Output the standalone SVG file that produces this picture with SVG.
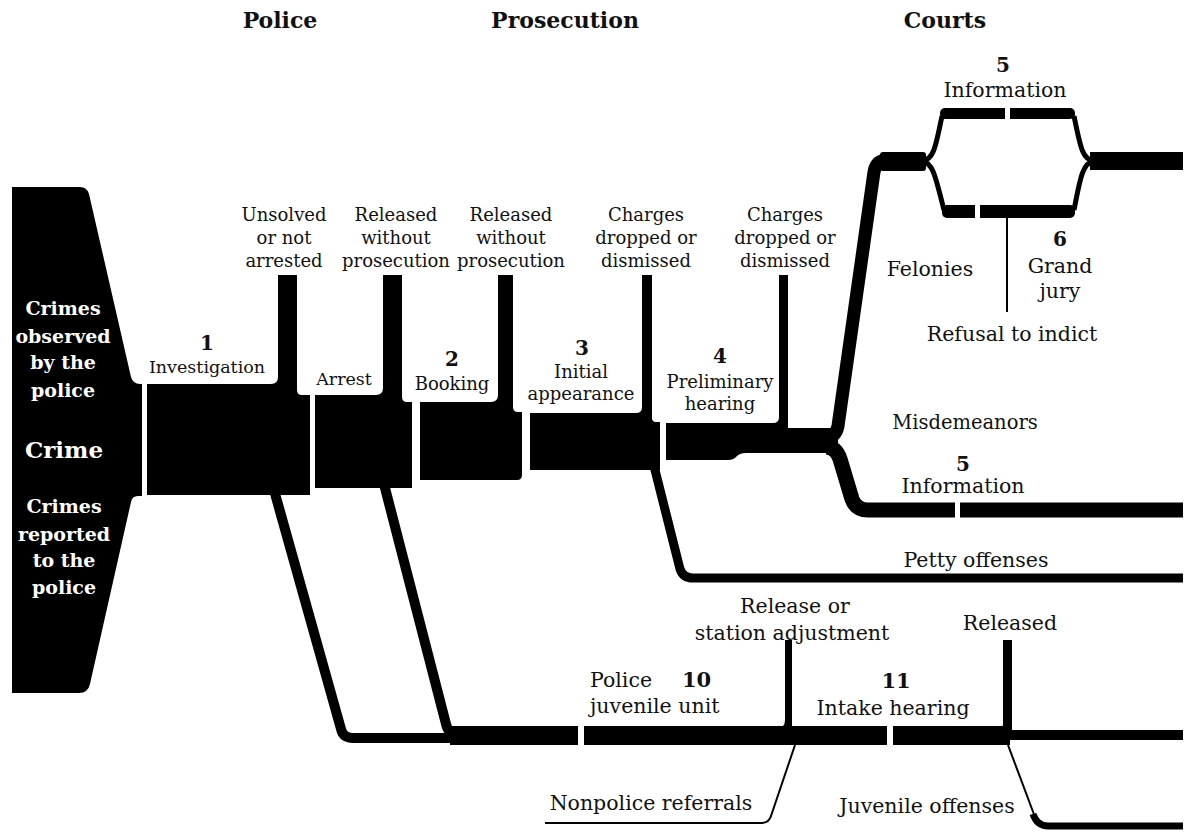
<svg xmlns="http://www.w3.org/2000/svg" width="1190" height="832" viewBox="0 0 1190 832">
<style>
.blk{fill:#000}
.str{fill:none;stroke:#000;stroke-linejoin:round}
.thin{fill:none;stroke:#000;stroke-width:2}
.gap{fill:#fff}
text{font-family:"DejaVu Serif","Liberation Serif",serif;fill:#111;text-anchor:middle}
.s{font-size:18px}
.m{font-size:17.5px}
.l{font-size:20.5px}
.num{font-size:20px;font-weight:bold}
.hd{font-size:22px;font-weight:bold}
.wt{fill:#fff;font-size:19px;font-weight:bold}
.st{text-anchor:start}
</style>
<rect width="1190" height="832" fill="#fff"/>

<g id="headings">
<text class="hd" x="280" y="28">Police</text>
<text class="hd" x="565" y="28">Prosecution</text>
<text class="hd" x="945" y="28">Courts</text>
</g>

<g id="connectors">
<!-- upward exits -->
<!-- felonies -->
<path class="str" stroke-width="13" d="M826,437 Q836,437 838,426 L874,172 Q876,160 888,160"/>
<!-- misdemeanors -->
<path class="str" stroke-width="15" d="M826,447 Q836,447 840,459 L852,499 Q856,510 868,510 L1183,510"/>
<!-- petty offenses -->
<path class="str" stroke-width="9" d="M654,466 L680,569 Q683,578 693,578 L1183,578"/>
<!-- juvenile streams -->
<path class="str" stroke-width="10" d="M274,490 L341,729 Q343,738 353,738 L460,738"/>
<path class="str" stroke-width="10" d="M384,484 L446,724 Q448,734 458,734 L470,734"/>
<!-- information / grand jury split -->
<path class="str" stroke-width="5" d="M922,161 C934,160 936,145 942,116"/>
<path class="str" stroke-width="5" d="M922,161 C934,163 936,180 944,210"/>
<path class="str" stroke-width="5" d="M1074,116 C1080,145 1082,160 1094,161"/>
<path class="str" stroke-width="5" d="M1074,210 C1080,180 1082,163 1094,161"/>
<path class="thin" d="M1007,218 L1007,312"/>
<!-- nonpolice referrals -->
<path class="thin" d="M795,745 L771,816 Q769,823 761,823 L545,823"/>
<!-- juvenile offenses -->
<path class="thin" stroke-width="2.5" d="M1008,745 L1035,817"/>
<path class="str" stroke-width="7" d="M1033,814 Q1037,826 1048,826 L1183,826"/>
</g>

<g id="crime">
<path class="blk" d="M12,187 L80,187 Q87,187 89,194 L131,377 Q133,384 140,384 L142,384 L142,496 L138,496 Q132,496 131,502 L90,684 Q88,693 79,693 L12,693 Z"/>
<text class="wt" x="63" y="315">Crimes</text>
<text class="wt" x="63" y="343">observed</text>
<text class="wt" x="63" y="369">by the</text>
<text class="wt" x="63" y="397">police</text>
<text class="wt" x="64" y="458" style="font-size:23px">Crime</text>
<text class="wt" x="64" y="513">Crimes</text>
<text class="wt" x="64" y="541">reported</text>
<text class="wt" x="64" y="567">to the</text>
<text class="wt" x="64" y="594">police</text>
</g>

<g id="investigation">
<path class="blk" d="M147,384 L271,384 Q278,384 278,377 L278,275 L297,275 L297,390 Q297,395 302,395 L310,395 L310,495 L147,495 Z"/>
<text class="num" x="207" y="350">1</text>
<text class="m" x="207" y="373">Investigation</text>
<text class="s" x="284" y="221">Unsolved</text>
<text class="s" x="284" y="244">or not</text>
<text class="s" x="284" y="267">arrested</text>
</g>

<g id="arrest">
<path class="blk" d="M315,395 L376,395 Q383,395 383,388 L383,275 L402,275 L402,397 Q402,402 407,402 L412,402 L412,488 L315,488 Z"/>
<text class="m" x="344" y="385">Arrest</text>
<text class="s" x="396" y="221">Released</text>
<text class="s" x="396" y="244">without</text>
<text class="s" x="396" y="267">prosecution</text>
</g>

<g id="booking">
<path class="blk" d="M420,402 L491,402 Q498,402 498,395 L498,275 L513,275 L513,407 Q513,412 518,412 L522,412 L522,475 Q522,480 517,480 L420,480 Z"/>
<text class="num" x="452" y="366">2</text>
<text class="s" x="452" y="390">Booking</text>
<text class="s" x="511" y="221">Released</text>
<text class="s" x="511" y="244">without</text>
<text class="s" x="511" y="267">prosecution</text>
</g>

<g id="initial-appearance">
<path class="blk" d="M530,413 L636,413 Q642,413 642,407 L642,275 L652,275 L652,418 Q652,422 656,422 L660,422 L660,470 L530,470 Z"/>
<text class="num" x="582" y="355">3</text>
<text class="s" x="581" y="378">Initial</text>
<text class="s" x="581" y="400">appearance</text>
<text class="s" x="646" y="221">Charges</text>
<text class="s" x="646" y="244">dropped or</text>
<text class="s" x="646" y="267">dismissed</text>
</g>

<g id="preliminary-hearing">
<path class="blk" d="M666,423 L773,423 Q779,423 779,417 L779,275 L788,275 L788,428 L838,428 L838,453 L746,453 Q740,453 737,456 Q734,460 728,460 L666,460 Z"/>
<text class="num" x="720" y="363">4</text>
<text class="s" x="720" y="388">Preliminary</text>
<text class="s" x="720" y="410">hearing</text>
<text class="s" x="785" y="221">Charges</text>
<text class="s" x="785" y="244">dropped or</text>
<text class="s" x="785" y="267">dismissed</text>
</g>

<g id="felonies">
<rect class="blk" x="880" y="152" width="46" height="19" rx="3"/>
<text class="l" x="930" y="276">Felonies</text>
</g>

<g id="information-felony">
<rect class="blk" x="940" y="108" width="135" height="11" rx="5"/>
<rect class="gap" x="1005" y="104" width="5" height="19"/>
<text class="num" x="1003" y="72">5</text>
<text class="l" x="1005" y="97">Information</text>
</g>

<g id="grand-jury">
<rect class="blk" x="942" y="205" width="133" height="13" rx="5"/>
<rect class="gap" x="975" y="201" width="5" height="21"/>
<text class="num" x="1060" y="246">6</text>
<text class="l" x="1060" y="273">Grand</text>
<text class="l" x="1060" y="298">jury</text>
<text class="l" x="1012" y="341">Refusal to indict</text>
</g>

<g id="felony-out">
<rect class="blk" x="1090" y="152" width="93" height="18"/>
</g>

<g id="misdemeanors">
<rect class="gap" x="955" y="498" width="5" height="25"/>
<text class="l" x="965" y="429" style="font-size:19.5px">Misdemeanors</text>
<text class="num" x="963" y="471">5</text>
<text class="l" x="963" y="493">Information</text>
</g>

<g id="petty-offenses">
<text class="l" x="976" y="567">Petty offenses</text>
</g>

<g id="juvenile-unit">
<rect class="blk" x="450" y="726" width="560" height="19"/>
<rect class="gap" x="578" y="720" width="6" height="30"/>
<path class="blk" d="M785,640 L792,640 L792,728 L777,728 Q785,728 785,720 Z"/>
<text class="l st" x="590" y="687">Police</text>
<text class="num st" x="682" y="687" style="font-size:21px">10</text>
<text class="l st" x="590" y="713">juvenile unit</text>
<text class="l" x="795" y="613">Release or</text>
<text class="l" x="792" y="640">station adjustment</text>
<text class="l" x="651" y="810">Nonpolice referrals</text>
</g>

<g id="intake-hearing">
<rect class="gap" x="887" y="720" width="6" height="30"/>
<path class="blk" d="M1003,640 L1012,640 L1012,732 L996,732 Q1003,732 1003,724 Z"/>
<rect class="blk" x="1008" y="730" width="175" height="10"/>
<text class="num" x="896" y="688" style="font-size:21px">11</text>
<text class="l" x="893" y="715">Intake hearing</text>
<text class="l" x="1010" y="630">Released</text>
<text class="l" x="927" y="813">Juvenile offenses</text>
</g>
</svg>
